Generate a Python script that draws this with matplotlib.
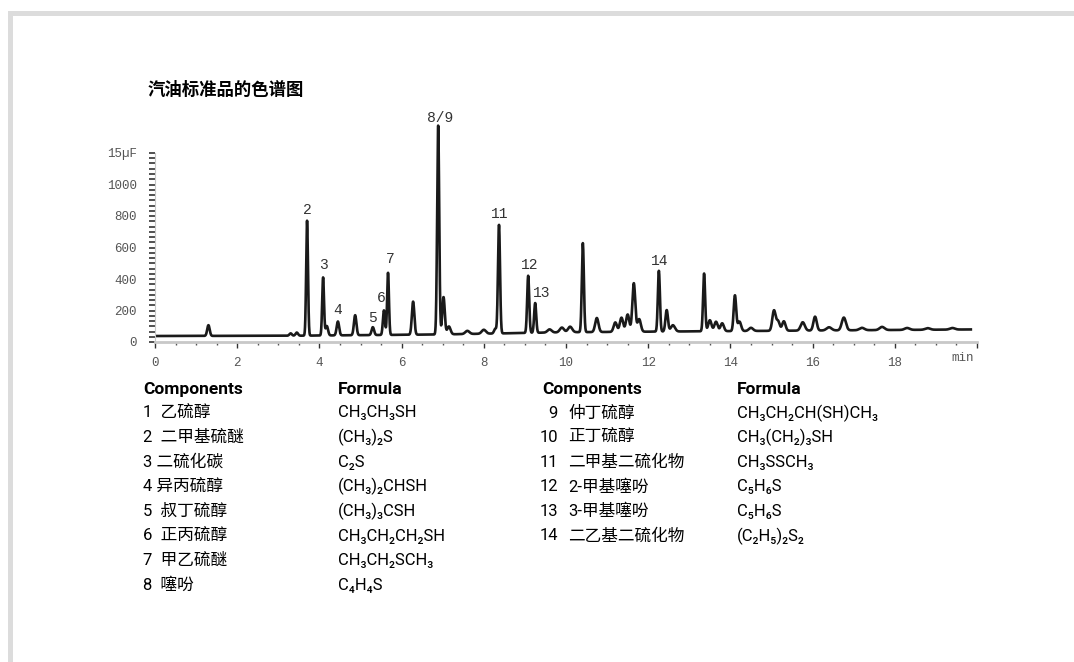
import numpy as np
import matplotlib
matplotlib.use("Agg")
import matplotlib.pyplot as plt
from matplotlib.patches import Rectangle
from matplotlib.ticker import MultipleLocator, FixedLocator

plt.rcParams['font.family'] = ['Roboto', 'Noto Sans CJK SC', 'DejaVu Sans']

# chromatogram: retention time (min), height above baseline, peak width (sigma, min)
peak_times = [1.30, 3.30, 3.45, 3.70, 4.09, 4.18, 4.45, 4.87, 5.30, 5.57, 5.67, 6.28,
              6.89, 7.02, 7.15, 7.60, 8.00, 8.28, 8.37, 9.08, 9.25, 9.60, 9.90, 10.10,
              10.41, 10.75, 11.20, 11.35, 11.50, 11.65, 11.78, 12.26, 12.45, 12.60, 13.36,
              13.50, 13.65, 13.80, 14.11, 14.22, 14.50, 15.06, 15.16, 15.30, 15.76, 16.06,
              16.40, 16.76, 17.20, 17.69, 18.30, 18.80, 19.40]
peak_heights = [68, 15, 20, 730, 368, 60, 88, 127, 50, 156, 395, 210,
                1327, 237, 50, 20, 25, 30, 690, 363, 189, 20, 30, 35,
                565, 89, 60, 90, 110, 308, 80, 386, 136, 40, 367,
                70, 60, 50, 226, 60, 20, 128, 60, 60, 53, 88,
                20, 81, 15, 20, 12, 10, 10]
peak_widths = [0.03, 0.03, 0.03, 0.022, 0.022, 0.03, 0.03, 0.03, 0.03, 0.025, 0.022, 0.03,
               0.025, 0.03, 0.04, 0.05, 0.05, 0.03, 0.025, 0.025, 0.025, 0.05, 0.05, 0.05,
               0.025, 0.04, 0.04, 0.04, 0.04, 0.035, 0.04, 0.025, 0.03, 0.05, 0.025,
               0.04, 0.04, 0.04, 0.03, 0.04, 0.05, 0.04, 0.04, 0.04, 0.05, 0.04,
               0.06, 0.05, 0.06, 0.06, 0.06, 0.06, 0.06]
baseline_times = [0.0, 3.5, 7.0, 10.0, 20.0]
baseline_levels = [38, 40, 48, 62, 80]

peak_labels = ['2', '3', '4', '5', '6', '7', '8/9', '11', '12', '13', '14']
label_times = [3.70, 4.11, 4.45, 5.28, 5.50, 5.72, 6.93, 8.39, 9.12, 9.42, 12.29]
label_levels = [838, 489, 203, 152, 279, 527, 1422, 813, 489, 311, 514]

x_ticks = [0, 2, 4, 6, 8, 10, 12, 14, 16, 18]
y_ticks = [0, 200, 400, 600, 800, 1000, 1200]
y_tick_labels = ['0', '200', '400', '600', '800', '1000', '15µF']

comp_left = ['1  乙硫醇', '2  二甲基硫醚', '3 二硫化碳', '4 异丙硫醇',
             '5  叔丁硫醇', '6  正丙硫醇', '7  甲乙硫醚', '8  噻吩']
formula_left = ['CH₃CH₃SH', '(CH₃)₂S', 'C₂S', '(CH₃)₂CHSH',
                '(CH₃)₃CSH', 'CH₃CH₂CH₂SH', 'CH₃CH₂SCH₃', 'C₄H₄S']
num_right = ['9', '10', '11', '12', '13', '14']
comp_right = ['仲丁硫醇', '正丁硫醇', '二甲基二硫化物', '2-甲基噻吩', '3-甲基噻吩', '二乙基二硫化物']
formula_right = ['CH₃CH₂CH(SH)CH₃', 'CH₃(CH₂)₃SH', 'CH₃SSCH₃', 'C₅H₆S', 'C₅H₆S', '(C₂H₅)₂S₂']

W, H = 1074, 662
fig = plt.figure(figsize=(W / 100, H / 100), dpi=100)

# grey L-shaped frame
fig.add_artist(Rectangle((8 / W, 0), 5 / W, (H - 11) / H, transform=fig.transFigure,
                         color='#dcdcdc', lw=0))
fig.add_artist(Rectangle((8 / W, (H - 16) / H), 1, 5 / H, transform=fig.transFigure,
                         color='#dcdcdc', lw=0))

def fx(px):
    return px / W

def fy(py):
    return 1 - py / H

fig.text(fx(148), fy(90), '汽油标准品的色谱图', fontsize=12.5, fontweight='bold',
         family=['Noto Sans CJK SC'], va='center', ha='left')

# chromatogram axes
ymax = 1450
ax = fig.add_axes([fx(155), fy(342), 822 / W, ymax * 0.1575 / H])
t = np.linspace(0, 19.85, 6000)
signal = np.interp(t, baseline_times, baseline_levels)
for t0, h, w in zip(peak_times, peak_heights, peak_widths):
    signal = signal + h * np.exp(-0.5 * ((t - t0) / w) ** 2)
ax.plot(t, signal, color='#1a1a1a', lw=1.9)

mono = ['Liberation Mono']
for lab, lt, ll in zip(peak_labels, label_times, label_levels):
    ax.text(lt, ll, lab, ha='center', va='center', fontsize=10.5,
            family=mono, color='#333333')

ax.set_xlim(0, 20)
ax.set_ylim(0, ymax)
for s in ['top', 'right']:
    ax.spines[s].set_visible(False)
ax.spines['left'].set_bounds(0, 1200)
ax.spines['left'].set_color('#c8c8c8')
ax.spines['bottom'].set_color('#c8c8c8')
ax.spines['bottom'].set_linewidth(2)
ax.spines['bottom'].set_bounds(0, 20)

ax.set_xticks(x_ticks + [20])
ax.set_xticklabels([str(v) for v in x_ticks] + [''])
ax.xaxis.set_minor_locator(MultipleLocator(0.5))
ax.set_yticks(y_ticks)
ax.set_yticklabels(y_tick_labels)
ax.yaxis.set_minor_locator(FixedLocator(np.arange(0, 1201, 200 / 6)))
ax.tick_params(axis='x', which='major', length=4, width=1, color='#333333', pad=7,
               labelsize=9, labelcolor='#555555')
ax.tick_params(axis='x', which='minor', length=2, width=1, color='#555555')
ax.tick_params(axis='y', which='both', length=4, width=1.2, color='#333333', pad=9,
               labelsize=9, labelcolor='#555555')
for lbl in ax.get_xticklabels() + ax.get_yticklabels():
    lbl.set_family(mono)
ax.text(19.65, -100, 'min', ha='center', va='center', fontsize=9,
        family=mono, color='#555555', clip_on=False)

# components table
row0, step = 413, 24.6
fs = 12
fig.text(fx(143), fy(389), 'Components', fontsize=12.5, fontweight='bold', va='center')
fig.text(fx(338), fy(389), 'Formula', fontsize=12.5, fontweight='bold', va='center')
fig.text(fx(542), fy(389), 'Components', fontsize=12.5, fontweight='bold', va='center')
fig.text(fx(737), fy(389), 'Formula', fontsize=12.5, fontweight='bold', va='center')
for i, (c, f) in enumerate(zip(comp_left, formula_left)):
    y = fy(row0 + i * step)
    fig.text(fx(143), y, c, fontsize=fs, va='center')
    fig.text(fx(338), y, f, fontsize=fs, va='center')
for i, (n, c, f) in enumerate(zip(num_right, comp_right, formula_right)):
    y = fy(row0 + i * step)
    fig.text(fx(558), y, n, fontsize=fs, va='center', ha='right')
    fig.text(fx(568), y, c, fontsize=fs, va='center')
    fig.text(fx(737), y, f, fontsize=fs, va='center')

fig.savefig('out.png', dpi=100)
